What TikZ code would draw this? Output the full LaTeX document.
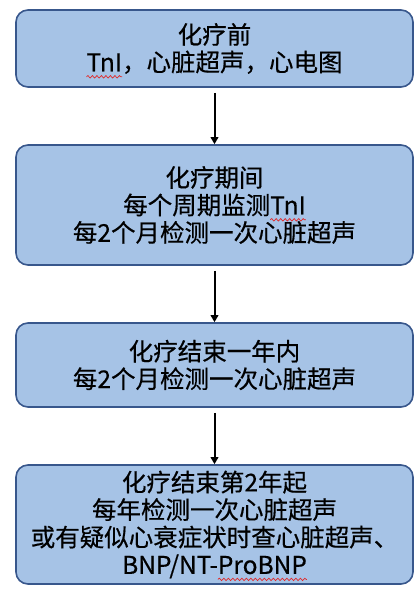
\documentclass[tikz,border=0pt]{standalone}
\usepackage{fontspec}
\usepackage{tikz}
\usetikzlibrary{arrows.meta, decorations.pathmorphing}
\setmainfont{Noto Sans CJK SC}
\newfontfamily{\stagefont}{Noto Sans CJK SC}[FakeBold=0.45]
\definecolor{stagefill}{RGB}{166,195,230}
\definecolor{stageline}{RGB}{56,87,140}
\definecolor{spellred}{RGB}{225,40,40}
% red wavy mark under words, as in the screenshot
\newsavebox{\spellbox}
\newcommand{\spellwave}[1]{\sbox{\spellbox}{#1}%
  \rlap{\tikz[overlay, baseline=0pt, sharp corners]
    \draw[spellred, fill=none, line width=0.7pt, decorate,
          decoration={snake, amplitude=1.2pt, segment length=4.5pt}]
      (0pt,-5.5pt) -- (\wd\spellbox,-5.5pt);}%
  \usebox{\spellbox}}

\begin{document}
\begin{tikzpicture}[
  x=1pt, y=-1pt,
  stage/.style={draw=stageline, line width=1.6pt, fill=stagefill,
                rounded corners=12pt, minimum width=397pt, align=center,
                inner sep=0pt, font=\stagefont\fontsize{24.5}{27.5}\selectfont},
  flow/.style={-{Triangle[length=7pt, width=7.5pt]}, line width=2pt,
               shorten <=5pt}
]
  \useasboundingbox (0,0) rectangle (414,596);

  % stages, top to bottom
  \node[stage, minimum height=77pt] (before) at (214.5,48.5)
    {化疗前\\\spellwave{TnI}，心脏超声，心电图};
  \node[stage, minimum height=120pt] (during) at (214.5,205)
    {化疗期间\\每个周期监测\spellwave{TnI}\\每2个月检测一次心脏超声};
  \node[stage, minimum height=84pt] (firstyr) at (214.5,365)
    {化疗结束一年内\\每2个月检测一次心脏超声};
  \node[stage, minimum height=119pt] (later) at (214.5,524.5)
    {化疗结束第2年起\\每年检测一次心脏超声\\或有疑似心衰症状时查心脏超声、\\BNP/NT-\spellwave{ProBNP}};

  \draw[flow] (before) -- (during);
  \draw[flow] (during) -- (firstyr);
  \draw[flow] (firstyr) -- (later);
\end{tikzpicture}
\end{document}
